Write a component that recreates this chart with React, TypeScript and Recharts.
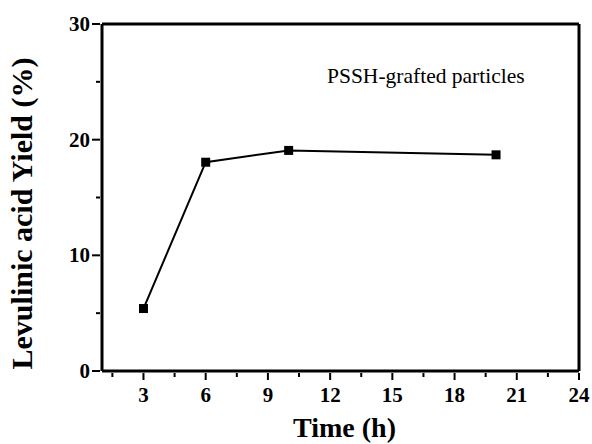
import React from 'react'
import {
  LineChart,
  Line,
  XAxis,
  YAxis,
  Label,
  ReferenceLine,
} from 'recharts'

const hours = [3, 6, 10, 20]
const yieldPct = [5.4, 18.05, 19.07, 18.69]
const xTicks = [3, 6, 9, 12, 15, 18, 21, 24]
const xMinorTicks = [1.5, 3, 4.5, 6, 7.5, 9, 10.5, 12, 13.5, 15, 16.5, 18, 19.5, 21, 22.5, 24]
const yTicks = [0, 5, 10, 15, 20, 25, 30]
const yLabels = [0, 10, 20, 30]
const xDomain = [1, 24]
const yDomain = [0, 30]

const data = hours.map((h, i) => ({ time: h, value: yieldPct[i] }))

const serif = '"Liberation Serif", "Times New Roman", serif'

const SquareDot = (props: any) => {
  const { cx, cy } = props
  if (cx == null || cy == null) return null
  return <rect x={cx - 4.5} y={cy - 4.5} width={9} height={9} fill="#000" />
}

const BottomTick = (props: any) => {
  const { x, y, payload } = props
  const major = xTicks.includes(payload.value)
  return (
    <g>
      <line x1={x} y1={y - 8} x2={x} y2={y - 8 + (major ? 7 : 4)} stroke="#000" strokeWidth={2} />
      {major && (
        <text x={x} y={y + 21} textAnchor="middle" fontFamily={serif} fontWeight="bold" fontSize={21} fill="#000">
          {payload.value}
        </text>
      )}
    </g>
  )
}

const LeftTick = (props: any) => {
  const { x, y, payload } = props
  const major = yLabels.includes(payload.value)
  return (
    <g>
      <line x1={x + 8} y1={y} x2={x + 8 - (major ? 8 : 4)} y2={y} stroke="#000" strokeWidth={2} />
      {major && (
        <text x={x - 2} y={y + 7} textAnchor="end" fontFamily={serif} fontWeight="bold" fontSize={21} fill="#000">
          {payload.value}
        </text>
      )}
    </g>
  )
}

export default function App() {
  return (
    <div style={{ position: 'absolute', left: 0, top: 0, background: '#fff' }}>
      <LineChart
        width={592}
        height={444}
        data={data}
        margin={{ top: 24, right: 13, bottom: 23, left: 0 }}
      >
        <XAxis
          dataKey="time"
          type="number"
          domain={xDomain}
          ticks={xMinorTicks}
          allowDataOverflow
          axisLine={false}
          tickLine={false}
          tick={<BottomTick />}
          tickSize={8}
          height={50}
        >
          <Label
            value="Time (h)"
            position="insideBottom"
            offset={-16}
            dx={4}
            style={{ fontFamily: serif, fontWeight: 'bold', fontSize: 28, fill: '#000' }}
          />
        </XAxis>
        <XAxis
          xAxisId="top"
          dataKey="time"
          type="number"
          orientation="top"
          domain={xDomain}
          ticks={xMinorTicks}
          allowDataOverflow
          height={0}
          mirror
          tick={false}
          tickSize={3}
          tickLine={{ stroke: '#000', strokeWidth: 1 }}
          axisLine={false}
        />
        <YAxis
          type="number"
          domain={yDomain}
          ticks={yTicks}
          axisLine={false}
          tickLine={false}
          tick={<LeftTick />}
          tickSize={8}
          width={102}
        >
          <Label
            value="Levulinic acid Yield (%)"
            angle={-90}
            position="insideLeft"
            offset={21}
            dy={16}
            style={{ textAnchor: 'middle', fontFamily: serif, fontWeight: 'bold', fontSize: 30, fill: '#000' }}
          />
        </YAxis>
        <ReferenceLine x={xDomain[0]} stroke="#000" strokeWidth={3} />
        <ReferenceLine x={xDomain[1]} stroke="#000" strokeWidth={3} />
        <ReferenceLine y={yDomain[0]} stroke="#000" strokeWidth={3} />
        <ReferenceLine y={yDomain[1]} stroke="#000" strokeWidth={3} />
        <Line
          dataKey="value"
          stroke="#000"
          strokeWidth={2}
          dot={<SquareDot />}
          activeDot={false}
          isAnimationActive={false}
        />
        <text x={327} y={83} fontFamily={serif} fontSize={21.5} fill="#000">
          PSSH-grafted particles
        </text>
      </LineChart>
    </div>
  )
}
